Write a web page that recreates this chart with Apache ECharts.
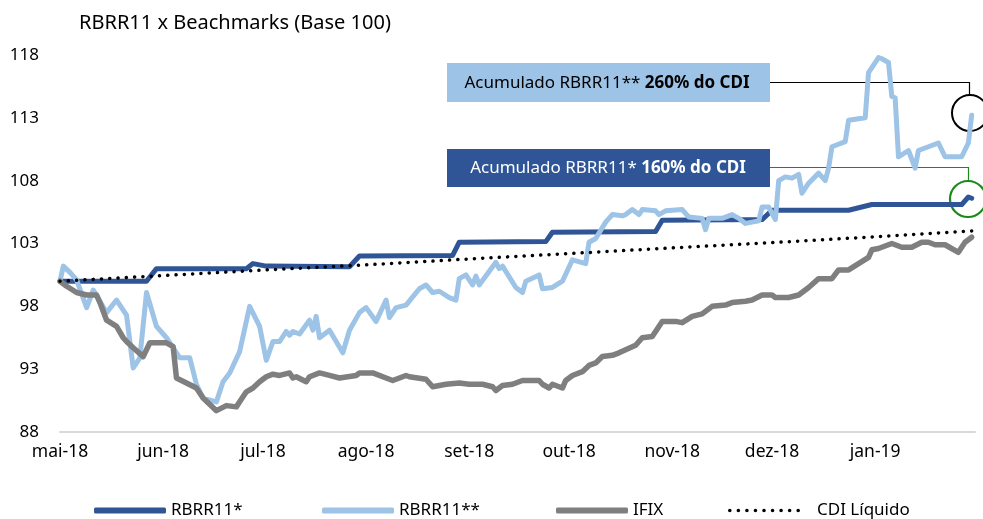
<!DOCTYPE html>
<html>
<head>
<meta charset="utf-8">
<script src="https://cdn.jsdelivr.net/npm/echarts@6/dist/echarts.min.js"></script>
<style>
  html, body { margin: 0; padding: 0; background: #fff; }
  #main { width: 983px; height: 519px; }
</style>
</head>
<body>
<div id="main"></div>
<script>
// meses do eixo x
var monthTicks = ['2018-05-01', '2018-06-01', '2018-07-01', '2018-08-01', '2018-09-01',
    '2018-10-01', '2018-11-01', '2018-12-01', '2019-01-01'];
var monthLabels = ['mai-18', 'jun-18', 'jul-18', 'ago-18', 'set-18', 'out-18', 'nov-18', 'dez-18', 'jan-19'];
var yTicks = [88, 93, 98, 103, 108, 113, 118];

// RBRR11* (cota patrimonial)
var rbrrStar = [
    ['2018-05-01', 100.0], ['2018-05-27', 100.0], ['2018-05-30', 101.0], ['2018-06-26', 101.0],
    ['2018-06-28', 101.4], ['2018-07-02', 101.2], ['2018-07-27', 101.15], ['2018-07-30', 102.0],
    ['2018-08-27', 102.05], ['2018-08-29', 103.1], ['2018-09-24', 103.15], ['2018-09-26', 103.9],
    ['2018-10-27', 103.95], ['2018-10-29', 104.85], ['2018-11-28', 104.9], ['2018-12-01', 105.65],
    ['2018-12-24', 105.65], ['2018-12-31', 106.1], ['2019-01-27', 106.1], ['2019-01-29', 106.7],
    ['2019-01-30', 106.6]
];

// RBRR11** (cota de mercado)
var rbrrStar2 = [
    ['2018-05-01', 100.0], ['2018-05-02', 101.2], ['2018-05-04', 100.7], ['2018-05-06', 100.1],
    ['2018-05-09', 97.9], ['2018-05-11', 99.3], ['2018-05-15', 97.5], ['2018-05-18', 98.5],
    ['2018-05-21', 97.3], ['2018-05-23', 93.1], ['2018-05-25', 93.9], ['2018-05-27', 99.1],
    ['2018-05-30', 96.4], ['2018-06-02', 95.5], ['2018-06-06', 93.9], ['2018-06-09', 93.9],
    ['2018-06-11', 91.8], ['2018-06-13', 90.7], ['2018-06-17', 90.4], ['2018-06-19', 92.0],
    ['2018-06-21', 92.7], ['2018-06-24', 94.4], ['2018-06-27', 98.0], ['2018-06-30', 96.4],
    ['2018-07-02', 93.7], ['2018-07-04', 95.2], ['2018-07-06', 95.2], ['2018-07-08', 96.0],
    ['2018-07-09', 95.7], ['2018-07-10', 96.0], ['2018-07-12', 95.8], ['2018-07-15', 96.9],
    ['2018-07-16', 96.1], ['2018-07-17', 97.2], ['2018-07-18', 95.5], ['2018-07-21', 96.1],
    ['2018-07-25', 94.3], ['2018-07-27', 96.1], ['2018-07-30', 97.5], ['2018-08-01', 97.9],
    ['2018-08-04', 96.8], ['2018-08-07', 98.5], ['2018-08-08', 97.1], ['2018-08-10', 97.9],
    ['2018-08-13', 98.1], ['2018-08-17', 99.4], ['2018-08-19', 99.7], ['2018-08-21', 99.1],
    ['2018-08-23', 99.2], ['2018-08-26', 98.7], ['2018-08-28', 98.5], ['2018-08-29', 100.2],
    ['2018-08-31', 100.5], ['2018-09-02', 99.7], ['2018-09-03', 100.4], ['2018-09-04', 99.7],
    ['2018-09-09', 101.5], ['2018-09-10', 101.0], ['2018-09-11', 101.2], ['2018-09-15', 99.5],
    ['2018-09-17', 99.1], ['2018-09-18', 100.0], ['2018-09-22', 100.5], ['2018-09-23', 99.4],
    ['2018-09-26', 99.5], ['2018-09-29', 100.0], ['2018-10-02', 101.7], ['2018-10-06', 101.4],
    ['2018-10-07', 103.1], ['2018-10-09', 103.4], ['2018-10-12', 104.7], ['2018-10-14', 105.3],
    ['2018-10-17', 105.2], ['2018-10-18', 105.3], ['2018-10-20', 105.7], ['2018-10-22', 105.3],
    ['2018-10-23', 105.7], ['2018-10-27', 105.6], ['2018-10-28', 105.3], ['2018-10-30', 105.6],
    ['2018-11-04', 105.7], ['2018-11-06', 105.1], ['2018-11-10', 105.0], ['2018-11-11', 104.1],
    ['2018-11-12', 105.0], ['2018-11-16', 105.0], ['2018-11-19', 105.3], ['2018-11-21', 105.0],
    ['2018-11-23', 104.6], ['2018-11-27', 104.8], ['2018-11-28', 105.9], ['2018-11-30', 105.9],
    ['2018-12-02', 104.9], ['2018-12-03', 108.0], ['2018-12-05', 108.3], ['2018-12-07', 108.2],
    ['2018-12-09', 108.5], ['2018-12-10', 107.0], ['2018-12-12', 107.8], ['2018-12-15', 108.6],
    ['2018-12-17', 108.0], ['2018-12-18', 109.0], ['2018-12-19', 110.7], ['2018-12-23', 111.1],
    ['2018-12-24', 112.8], ['2018-12-29', 113.0], ['2018-12-30', 116.6], ['2018-12-31', 117.0],
    ['2019-01-02', 117.8], ['2019-01-03', 117.7], ['2019-01-05', 117.4], ['2019-01-06', 114.7],
    ['2019-01-07', 114.6], ['2019-01-08', 109.9], ['2019-01-11', 110.4], ['2019-01-13', 109.0],
    ['2019-01-14', 110.4], ['2019-01-17', 110.7], ['2019-01-20', 111.0], ['2019-01-22', 109.9],
    ['2019-01-27', 109.9], ['2019-01-29', 111.0], ['2019-01-30', 113.2]
];

// IFIX
var ifix = [
    ['2018-05-01', 100.0], ['2018-05-03', 99.6], ['2018-05-06', 99.1], ['2018-05-09', 98.9],
    ['2018-05-12', 98.9], ['2018-05-13', 98.3], ['2018-05-15', 96.9], ['2018-05-18', 96.4],
    ['2018-05-20', 95.5], ['2018-05-21', 95.2], ['2018-05-23', 94.7], ['2018-05-26', 94.0],
    ['2018-05-28', 95.1], ['2018-06-02', 95.1], ['2018-06-04', 94.8], ['2018-06-05', 92.3],
    ['2018-06-08', 91.9], ['2018-06-11', 91.5], ['2018-06-13', 90.7], ['2018-06-17', 89.7],
    ['2018-06-20', 90.1], ['2018-06-23', 90.0], ['2018-06-24', 90.4], ['2018-06-26', 91.2],
    ['2018-06-28', 91.5], ['2018-06-30', 92.0], ['2018-07-02', 92.4], ['2018-07-04', 92.6],
    ['2018-07-06', 92.5], ['2018-07-09', 92.7], ['2018-07-10', 92.3], ['2018-07-11', 92.4],
    ['2018-07-14', 92.0], ['2018-07-15', 92.4], ['2018-07-18', 92.7], ['2018-07-21', 92.5],
    ['2018-07-24', 92.3], ['2018-07-29', 92.5], ['2018-07-30', 92.7], ['2018-08-03', 92.7],
    ['2018-08-07', 92.3], ['2018-08-09', 92.1], ['2018-08-11', 92.3], ['2018-08-13', 92.5],
    ['2018-08-14', 92.4], ['2018-08-19', 92.2], ['2018-08-21', 91.6], ['2018-08-25', 91.8],
    ['2018-08-29', 91.9], ['2018-09-01', 91.8], ['2018-09-05', 91.8], ['2018-09-08', 91.6],
    ['2018-09-09', 91.3], ['2018-09-11', 91.7], ['2018-09-14', 91.8], ['2018-09-17', 92.1],
    ['2018-09-22', 92.1], ['2018-09-23', 91.8], ['2018-09-25', 91.5], ['2018-09-26', 91.8],
    ['2018-09-29', 91.5], ['2018-09-30', 92.1], ['2018-10-01', 92.3], ['2018-10-02', 92.5],
    ['2018-10-05', 92.8], ['2018-10-07', 93.3], ['2018-10-09', 93.5], ['2018-10-11', 94.0],
    ['2018-10-14', 94.1], ['2018-10-16', 94.3], ['2018-10-21', 94.9], ['2018-10-23', 95.5],
    ['2018-10-26', 95.6], ['2018-10-29', 96.8], ['2018-11-02', 96.8], ['2018-11-04', 96.7],
    ['2018-11-07', 97.2], ['2018-11-10', 97.4], ['2018-11-13', 98.0], ['2018-11-17', 98.1],
    ['2018-11-19', 98.3], ['2018-11-23', 98.4], ['2018-11-25', 98.5], ['2018-11-28', 98.9],
    ['2018-12-01', 98.9], ['2018-12-02', 98.7], ['2018-12-06', 98.7], ['2018-12-09', 98.9],
    ['2018-12-12', 99.5], ['2018-12-15', 100.2], ['2018-12-19', 100.2], ['2018-12-21', 100.9],
    ['2018-12-24', 100.9], ['2018-12-27', 101.4], ['2018-12-30', 101.9], ['2018-12-31', 102.5],
    ['2019-01-02', 102.6], ['2019-01-06', 103.0], ['2019-01-09', 102.7], ['2019-01-12', 102.7],
    ['2019-01-15', 103.1], ['2019-01-17', 103.1], ['2019-01-19', 102.9], ['2019-01-22', 102.9],
    ['2019-01-26', 102.3], ['2019-01-28', 103.1], ['2019-01-30', 103.5]
];

// CDI Líquido
var cdi = [
    ['2018-05-01', 100.0], ['2018-06-01', 100.45], ['2018-07-02', 100.9], ['2018-08-01', 101.3],
    ['2018-09-03', 101.8], ['2018-10-01', 102.2], ['2018-11-01', 102.65], ['2018-12-03', 103.1],
    ['2019-01-02', 103.55], ['2019-01-30', 104.0]
];

var FONT = 'Noto Sans';

function ts(d) {
    return echarts.number.parseDate(d).getTime();
}
function toXY(arr) {
    return arr.map(function (p) { return [ts(p[0]), p[1]]; });
}

var myChart = echarts.init(document.getElementById('main'));

function lineSerie(name, data, color, extra) {
    var s = {
        name: name,
        type: 'line',
        data: toXY(data),
        symbol: 'none',
        showSymbol: false,
        animation: false,
        lineStyle: { color: color, width: 5, join: 'round', cap: 'round' },
        itemStyle: { color: color }
    };
    return Object.assign(s, extra || {});
}

// icone pontilhado da legenda (9 pontos)
var dotsPath = 'path://';
for (var k = 0; k < 9; k++) {
    var cx = 2 + k * 8.5;
    dotsPath += 'M' + (cx - 1.8) + ',2a1.8,1.8 0 1,0 3.6,0a1.8,1.8 0 1,0 -3.6,0Z';
}

function legendAt(left, name, icon, width, height, textPad) {
    return {
        data: [name],
        left: left,
        top: 497,
        icon: icon,
        itemWidth: width,
        itemHeight: height,
        selectedMode: false,
        textStyle: { fontFamily: FONT, fontSize: 17, color: '#000', padding: [0, 0, 0, textPad || 0] }
    };
}

var tickTs = monthTicks.map(ts);

var option = {
    backgroundColor: '#fff',
    title: {
        text: 'RBRR11 x Beachmarks (Base 100)',
        left: 74,
        top: 8,
        textStyle: { fontFamily: FONT, fontSize: 20, fontWeight: 'normal', color: '#000' }
    },
    grid: { left: 60, right: 8, top: 55, bottom: 87 },
    legend: [
        legendAt(89, 'RBRR11*', 'roundRect', 72, 6),
        legendAt(317, 'RBRR11**', 'roundRect', 72, 6),
        legendAt(551, 'IFIX', 'roundRect', 72, 6),
        legendAt(723, 'CDI Líquido', dotsPath, 72, 4, 12)
    ],
    xAxis: {
        type: 'value',
        min: ts('2018-05-01'),
        max: ts('2019-01-31'),
        axisLine: { show: true, lineStyle: { color: '#d9d9d9', width: 2 } },
        axisTick: { show: false },
        splitLine: { show: false },
        axisLabel: {
            customValues: tickTs,
            formatter: function (v) {
                var i = tickTs.indexOf(v);
                return i >= 0 ? monthLabels[i] : '';
            },
            margin: 11,
            hideOverlap: false,
            fontFamily: FONT,
            fontSize: 17.5,
            color: '#000'
        }
    },
    yAxis: {
        type: 'value',
        min: 88,
        max: 118,
        axisLine: { show: false },
        axisTick: { show: false },
        splitLine: { show: false },
        axisLabel: {
            customValues: yTicks,
            margin: 21,
            fontFamily: FONT,
            fontSize: 17,
            color: '#000'
        }
    },
    series: [
        lineSerie('RBRR11*', rbrrStar, '#2F5597'),
        lineSerie('RBRR11**', rbrrStar2, '#9DC3E6'),
        lineSerie('IFIX', ifix, '#7F7F7F', {
            lineStyle: { color: '#7F7F7F', width: 5.5, join: 'round', cap: 'round' }
        }),
        lineSerie('CDI Líquido', cdi, '#000000', {
            lineStyle: { color: '#000', width: 3.5, type: [0.1, 8.2], cap: 'round' }
        })
    ],
    graphic: [
        // caixa RBRR11**
        { type: 'rect', left: 447, top: 63, shape: { width: 323, height: 39 }, style: { fill: '#9DC3E6' } },
        {
            type: 'text', x: 607, y: 83,
            style: {
                text: '{n|Acumulado RBRR11** }{b|260% do CDI}',
                align: 'center', verticalAlign: 'middle',
                rich: {
                    n: { fontFamily: FONT, fontSize: 17, fill: '#000' },
                    b: { fontFamily: FONT, fontSize: 17, fontWeight: 'bold', fill: '#000' }
                }
            }
        },
        { type: 'polyline', shape: { points: [[770, 82.5], [969.5, 82.5], [969.5, 95]] }, style: { stroke: '#000', lineWidth: 1.2, fill: null } },
        { type: 'circle', shape: { cx: 970, cy: 113, r: 18 }, style: { stroke: '#000', lineWidth: 2, fill: null } },
        // caixa RBRR11*
        { type: 'rect', left: 447, top: 149, shape: { width: 323, height: 38 }, style: { fill: '#2F5597' } },
        {
            type: 'text', x: 608, y: 168,
            style: {
                text: '{n|Acumulado RBRR11* }{b|160% do CDI}',
                align: 'center', verticalAlign: 'middle',
                rich: {
                    n: { fontFamily: FONT, fontSize: 17, fill: '#fff' },
                    b: { fontFamily: FONT, fontSize: 17, fontWeight: 'bold', fill: '#fff' }
                }
            }
        },
        { type: 'polyline', shape: { points: [[770, 167.5], [968.5, 167.5], [968.5, 181]] }, style: { stroke: '#1B8A1B', lineWidth: 1.2, fill: null } },
        { type: 'circle', shape: { cx: 968, cy: 199, r: 18 }, style: { stroke: '#1B8A1B', lineWidth: 2.2, fill: null } }
    ]
};

myChart.setOption(option);
</script>
</body>
</html>
